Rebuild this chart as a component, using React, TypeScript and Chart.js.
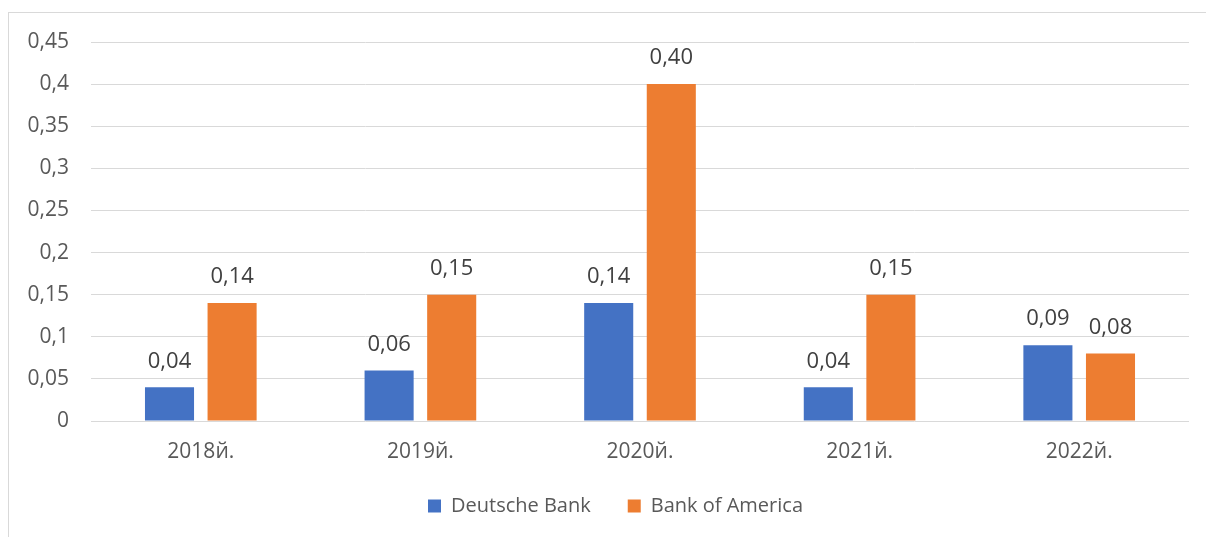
import React, { useEffect, useRef } from "react";
import { Chart, registerables } from "chart.js";

Chart.register(...registerables);

const categories = ["2018й.", "2019й.", "2020й.", "2021й.", "2022й."];
const deutscheBank = [0.04, 0.06, 0.14, 0.04, 0.09];
const bankOfAmerica = [0.14, 0.15, 0.4, 0.15, 0.08];
const seriesNames = ["Deutsche Bank", "Bank of America"];

const FONT = "'Open Sans', sans-serif";

const dataLabels = {
  id: "dataLabels",
  afterDatasetsDraw(chart: any) {
    const ctx = chart.ctx;
    ctx.save();
    ctx.font = `22px ${FONT}`;
    ctx.fillStyle = "#404040";
    ctx.textAlign = "center";
    ctx.textBaseline = "middle";
    chart.data.datasets.forEach((ds: any, i: number) => {
      const meta = chart.getDatasetMeta(i);
      meta.data.forEach((el: any, j: number) => {
        const v = ds.data[j] as number;
        ctx.fillText(v.toFixed(2).replace(".", ","), el.x, el.y - 26);
      });
    });
    ctx.restore();
  },
};

const legendShift = {
  id: "legendShift",
  afterLayout(chart: any) {
    if (chart.legend) chart.legend.left += 42;
  },
};

export default function App() {
  const ref = useRef<HTMLCanvasElement>(null);
  useEffect(() => {
    if (!ref.current) return;
    const chart = new Chart(ref.current, {
      type: "bar",
      data: {
        labels: categories,
        datasets: [
          {
            label: seriesNames[0],
            data: deutscheBank,
            backgroundColor: "#4472C4",
            categoryPercentage: 0.57,
            barPercentage: 0.784,
          },
          {
            label: seriesNames[1],
            data: bankOfAmerica,
            backgroundColor: "#ED7D31",
            categoryPercentage: 0.57,
            barPercentage: 0.784,
          },
        ],
      },
      options: {
        animation: false,
        responsive: false,
        devicePixelRatio: 1,
        layout: { padding: { top: 42, right: 17, left: 0, bottom: 11 } },
        plugins: {
          tooltip: { enabled: false },
          legend: {
            position: "bottom",
            labels: {
              boxWidth: 13,
              boxHeight: 13,
              padding: 37,
              color: "#595959",
              font: { family: FONT, size: 20 },
            },
          },
        },
        scales: {
          x: {
            grid: { display: false, drawTicks: false },
            border: { display: false },
            ticks: {
              color: "#595959",
              font: { family: FONT, size: 21 },
              padding: 18,
            },
            afterFit(scale: any) {
              scale.height = 38;
            },
          },
          y: {
            min: 0,
            max: 0.45,
            grid: { color: "#d9d9d9", lineWidth: 1, drawTicks: false },
            border: { display: false },
            ticks: {
              stepSize: 0.05,
              color: "#595959",
              font: { family: FONT, size: 21 },
              padding: 22,
              callback: (v: any) =>
                String(Math.round(Number(v) * 100) / 100).replace(".", ","),
            },
            afterFit(scale: any) {
              scale.width = 91;
            },
          },
        },
      },
      plugins: [dataLabels, legendShift],
    });
    return () => chart.destroy();
  }, []);

  return (
    <div style={{ position: "fixed", left: 0, top: 0, width: 1206, height: 537, background: "#fff" }}>
      <div
        style={{
          position: "absolute",
          left: 8,
          top: 12,
          width: 1198,
          height: 525,
          borderLeft: "1px solid #d9d9d9",
          borderTop: "1px solid #d9d9d9",
        }}
      />
      <canvas ref={ref} width={1206} height={537} style={{ position: "absolute", left: 0, top: 0 }} />
    </div>
  );
}
